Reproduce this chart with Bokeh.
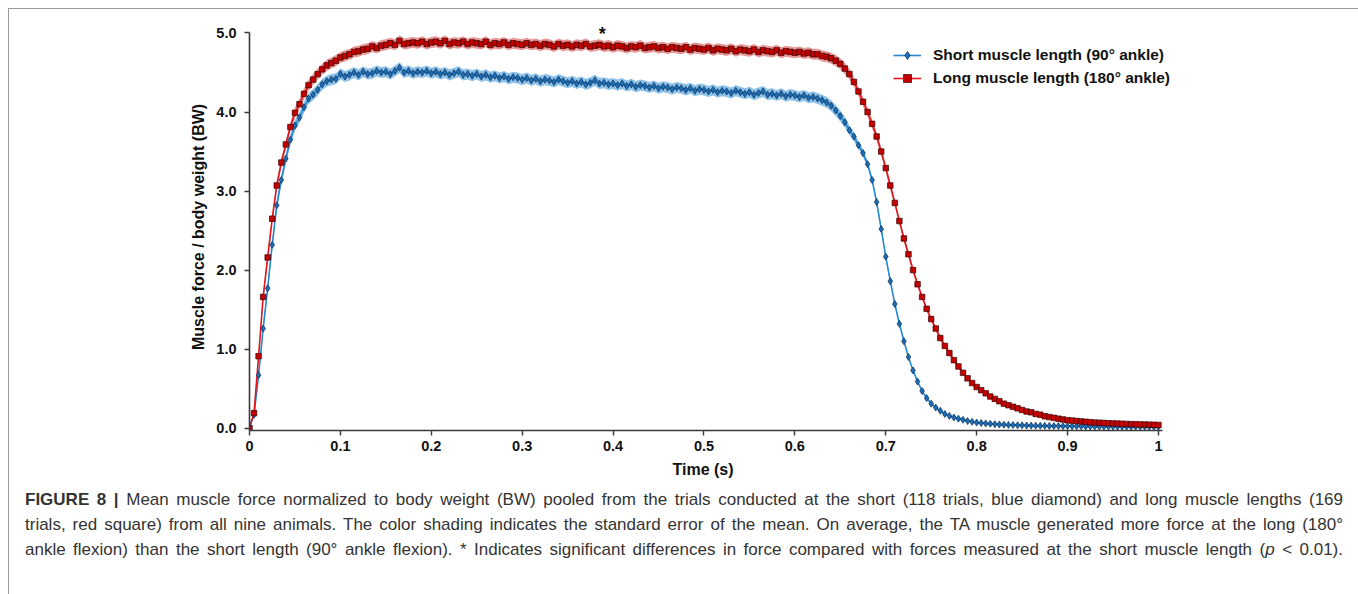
from bokeh.plotting import figure
from bokeh.models import Range1d, FixedTicker, Legend, LegendItem, Label, Div, ColumnDataSource, Title
from bokeh.layouts import column
from bokeh.embed import file_html
from bokeh.resources import INLINE

# ---------------- DATA ----------------
# time axis: samples every 5 ms from 0 to 1 s
time_s = [round(i * 0.005, 3) for i in range(201)]

# Long muscle length (180 deg ankle) – mean force / BW
long_mean = [
    0.00, 0.19, 0.91, 1.66, 2.16, 2.65, 3.07, 3.36, 3.59, 3.81,
    3.99, 4.10, 4.23, 4.34, 4.41, 4.48, 4.54, 4.59, 4.62, 4.65,
    4.69, 4.71, 4.73, 4.76, 4.77, 4.79, 4.80, 4.83, 4.81, 4.84,
    4.85, 4.87, 4.85, 4.90, 4.86, 4.87, 4.88, 4.87, 4.89, 4.86,
    4.88, 4.89, 4.87, 4.90, 4.86, 4.88, 4.87, 4.89, 4.86, 4.88,
    4.87, 4.86, 4.89, 4.85, 4.87, 4.86, 4.88, 4.85, 4.87, 4.86,
    4.85, 4.87, 4.85, 4.86, 4.84, 4.86, 4.85, 4.83, 4.86, 4.84,
    4.85, 4.83, 4.85, 4.84, 4.86, 4.83, 4.84, 4.85, 4.83, 4.84,
    4.82, 4.84, 4.83, 4.81, 4.83, 4.82, 4.84, 4.81, 4.82, 4.83,
    4.81, 4.82, 4.80, 4.82, 4.81, 4.80, 4.82, 4.79, 4.81, 4.80,
    4.79, 4.81, 4.78, 4.80, 4.79, 4.78, 4.80, 4.77, 4.79, 4.78,
    4.77, 4.79, 4.76, 4.78, 4.77, 4.76, 4.78, 4.75, 4.77, 4.76,
    4.75, 4.76, 4.74, 4.75, 4.73, 4.73, 4.71, 4.70, 4.68, 4.65,
    4.61, 4.55, 4.48, 4.38, 4.26, 4.13, 4.00, 3.85, 3.69, 3.50,
    3.29, 3.07, 2.85, 2.62, 2.40, 2.20, 2.00, 1.82, 1.66, 1.51,
    1.38, 1.26, 1.14, 1.04, 0.95, 0.86, 0.78, 0.70, 0.63, 0.57,
    0.52, 0.48, 0.44, 0.40, 0.37, 0.34, 0.31, 0.29, 0.27, 0.25,
    0.23, 0.21, 0.20, 0.18, 0.17, 0.15, 0.14, 0.13, 0.12, 0.11,
    0.10, 0.095, 0.09, 0.085, 0.08, 0.075, 0.07, 0.068, 0.065, 0.062,
    0.06, 0.057, 0.055, 0.053, 0.05, 0.048, 0.046, 0.045, 0.044, 0.042,
    0.04,
]

# Short muscle length (90 deg ankle) – mean force / BW
short_mean = [
    0.02, 0.17, 0.67, 1.26, 1.77, 2.32, 2.82, 3.14, 3.41, 3.65,
    3.83, 3.93, 4.06, 4.17, 4.22, 4.28, 4.35, 4.39, 4.41, 4.42,
    4.48, 4.45, 4.47, 4.50, 4.47, 4.51, 4.48, 4.49, 4.52, 4.50,
    4.51, 4.48, 4.52, 4.56, 4.50, 4.52, 4.49, 4.51, 4.50, 4.52,
    4.49, 4.51, 4.48, 4.50, 4.47, 4.49, 4.51, 4.47, 4.48, 4.46,
    4.48, 4.45, 4.47, 4.44, 4.46, 4.43, 4.45, 4.42, 4.44, 4.43,
    4.41, 4.43, 4.40, 4.42, 4.39, 4.41, 4.40, 4.38, 4.41, 4.39,
    4.37, 4.39, 4.36, 4.38, 4.35, 4.37, 4.40, 4.36, 4.37, 4.35,
    4.36, 4.34, 4.36, 4.33, 4.35, 4.32, 4.34, 4.33, 4.31, 4.33,
    4.30, 4.32, 4.31, 4.29, 4.31, 4.30, 4.28, 4.30, 4.27, 4.29,
    4.28, 4.26, 4.28, 4.25, 4.27, 4.26, 4.24, 4.27, 4.25, 4.23,
    4.25, 4.22, 4.24, 4.26, 4.22, 4.23, 4.21, 4.23, 4.20, 4.22,
    4.21, 4.19, 4.21, 4.18, 4.19, 4.17, 4.15, 4.12, 4.08, 4.02,
    3.95, 3.87, 3.77, 3.69, 3.58, 3.48, 3.34, 3.14, 2.86, 2.52,
    2.17, 1.86, 1.57, 1.32, 1.10, 0.90, 0.73, 0.59, 0.47, 0.38,
    0.31, 0.26, 0.22, 0.18, 0.155, 0.135, 0.12, 0.105, 0.09, 0.08,
    0.07, 0.065, 0.06, 0.055, 0.05, 0.047, 0.044, 0.041, 0.039, 0.037,
    0.035, 0.033, 0.032, 0.031, 0.030, 0.029, 0.028, 0.027, 0.026, 0.025,
    0.025, 0.024, 0.023, 0.023, 0.022, 0.022, 0.021, 0.021, 0.020, 0.020,
    0.020, 0.019, 0.019, 0.018, 0.018, 0.018, 0.017, 0.017, 0.016, 0.016,
    0.016,
]

# standard error of the mean (shaded bands)
long_se = [
    0.00, 0.02, 0.03, 0.04, 0.05, 0.05, 0.06, 0.06, 0.06, 0.06,
    0.07, 0.07, 0.07, 0.07, 0.07, 0.07, 0.07, 0.07, 0.07, 0.07,
    0.07, 0.07, 0.07, 0.07, 0.07, 0.07, 0.07, 0.07, 0.07, 0.07,
    0.07, 0.07, 0.07, 0.07, 0.07, 0.07, 0.07, 0.07, 0.07, 0.07,
    0.07, 0.07, 0.07, 0.07, 0.07, 0.07, 0.07, 0.07, 0.07, 0.07,
    0.07, 0.07, 0.07, 0.07, 0.07, 0.07, 0.07, 0.07, 0.07, 0.07,
    0.07, 0.07, 0.07, 0.07, 0.07, 0.07, 0.07, 0.07, 0.07, 0.07,
    0.07, 0.07, 0.07, 0.07, 0.07, 0.07, 0.07, 0.07, 0.07, 0.07,
    0.07, 0.07, 0.07, 0.07, 0.07, 0.07, 0.07, 0.07, 0.07, 0.07,
    0.07, 0.07, 0.07, 0.07, 0.07, 0.07, 0.07, 0.07, 0.07, 0.07,
    0.07, 0.07, 0.07, 0.07, 0.07, 0.07, 0.07, 0.07, 0.07, 0.07,
    0.07, 0.07, 0.07, 0.07, 0.07, 0.07, 0.07, 0.07, 0.07, 0.07,
    0.07, 0.07, 0.07, 0.07, 0.07, 0.07, 0.07, 0.07, 0.07, 0.07,
    0.07, 0.07, 0.07, 0.06, 0.06, 0.06, 0.06, 0.06, 0.05, 0.05,
    0.05, 0.05, 0.04, 0.04, 0.04, 0.04, 0.04, 0.03, 0.03, 0.03,
    0.03, 0.03, 0.03, 0.03, 0.03, 0.02, 0.02, 0.02, 0.02, 0.02,
    0.02, 0.02, 0.02, 0.02, 0.02, 0.02, 0.02, 0.01, 0.01, 0.01,
    0.01, 0.01, 0.01, 0.01, 0.01, 0.01, 0.01, 0.01, 0.01, 0.01,
    0.01, 0.01, 0.01, 0.01, 0.01, 0.01, 0.01, 0.01, 0.01, 0.01,
    0.01, 0.01, 0.01, 0.01, 0.01, 0.01, 0.01, 0.01, 0.01, 0.01,
    0.01,
]
short_se = [
    0.00, 0.02, 0.03, 0.04, 0.05, 0.05, 0.06, 0.06, 0.06, 0.07,
    0.07, 0.07, 0.07, 0.07, 0.07, 0.07, 0.07, 0.07, 0.07, 0.07,
    0.07, 0.07, 0.07, 0.07, 0.07, 0.07, 0.07, 0.07, 0.07, 0.07,
    0.07, 0.07, 0.07, 0.07, 0.07, 0.07, 0.07, 0.07, 0.07, 0.07,
    0.07, 0.07, 0.07, 0.07, 0.07, 0.07, 0.07, 0.07, 0.07, 0.07,
    0.07, 0.07, 0.07, 0.07, 0.07, 0.07, 0.07, 0.07, 0.07, 0.07,
    0.07, 0.07, 0.07, 0.07, 0.07, 0.07, 0.07, 0.07, 0.07, 0.07,
    0.07, 0.07, 0.07, 0.07, 0.07, 0.07, 0.07, 0.07, 0.07, 0.07,
    0.07, 0.07, 0.07, 0.07, 0.07, 0.07, 0.07, 0.07, 0.07, 0.07,
    0.07, 0.07, 0.07, 0.07, 0.07, 0.07, 0.07, 0.07, 0.07, 0.07,
    0.07, 0.07, 0.07, 0.07, 0.07, 0.07, 0.07, 0.07, 0.07, 0.07,
    0.07, 0.07, 0.07, 0.07, 0.07, 0.07, 0.07, 0.07, 0.07, 0.07,
    0.07, 0.07, 0.07, 0.07, 0.07, 0.07, 0.07, 0.07, 0.07, 0.07,
    0.07, 0.07, 0.06, 0.06, 0.05, 0.05, 0.04, 0.03, 0.03, 0.03,
    0.02, 0.02, 0.02, 0.02, 0.02, 0.01, 0.01, 0.01, 0.01, 0.01,
    0.01, 0.01, 0.01, 0.01, 0.01, 0.01, 0.01, 0.01, 0.01, 0.01,
    0.01, 0.01, 0.01, 0.01, 0.01, 0.01, 0.01, 0.01, 0.01, 0.01,
    0.01, 0.01, 0.01, 0.01, 0.01, 0.01, 0.01, 0.01, 0.01, 0.01,
    0.01, 0.01, 0.01, 0.01, 0.01, 0.01, 0.01, 0.01, 0.01, 0.01,
    0.01, 0.01, 0.01, 0.01, 0.01, 0.01, 0.01, 0.01, 0.01, 0.01,
    0.01,
]

series_labels = ["Short muscle length (90° ankle)", "Long muscle length (180° ankle)"]
x_ticks = [0, 0.1, 0.2, 0.3, 0.4, 0.5, 0.6, 0.7, 0.8, 0.9, 1]
x_tick_labels = ["0", "0.1", "0.2", "0.3", "0.4", "0.5", "0.6", "0.7", "0.8", "0.9", "1"]
y_ticks = [0, 1, 2, 3, 4, 5]
y_tick_labels = ["0.0", "1.0", "2.0", "3.0", "4.0", "5.0"]
sig_time = [0.388]
sig_value = [4.99]

assert len(long_mean) == len(short_mean) == len(long_se) == len(short_se) == len(time_s)

caption_lines = [
    "<b>FIGURE 8 |</b> Mean muscle force normalized to body weight (BW) pooled from the trials conducted at the short (118 trials, blue diamond) and long muscle lengths (169",
    "trials, red square) from all nine animals. The color shading indicates the standard error of the mean. On average, the TA muscle generated more force at the long (180°",
    "ankle flexion) than the short length (90° ankle flexion). * Indicates significant differences in force compared with forces measured at the short muscle length (<i>p</i> &lt; 0.01).",
]

# ---------------- PLOT ----------------
FONT = "Liberation Sans"

src = ColumnDataSource(dict(
    t=time_s,
    lm=long_mean, sm=short_mean,
    l_lo=[m - s for m, s in zip(long_mean, long_se)],
    l_hi=[m + s for m, s in zip(long_mean, long_se)],
    s_lo=[m - s for m, s in zip(short_mean, short_se)],
    s_hi=[m + s for m, s in zip(short_mean, short_se)],
))

p = figure(
    frame_width=1018, frame_height=407,
    min_border_left=240, min_border_right=82, min_border_top=14, min_border_bottom=10,
    x_range=Range1d(0, 1.12), y_range=Range1d(-0.03, 5.12),
    output_backend="svg", toolbar_location=None,
)
p.outline_line_color = None
p.xgrid.visible = False
p.ygrid.visible = False
p.background_fill_color = "white"
p.border_fill_color = "white"

# bands
p.varea(x="t", y1="l_lo", y2="l_hi", source=src, fill_color="#e47d7d", fill_alpha=0.8)
p.varea(x="t", y1="s_lo", y2="s_hi", source=src, fill_color="#6fb1e4", fill_alpha=0.8)

# lines + markers
bl = p.line("t", "sm", source=src, line_color="#2388d6", line_width=1.6)
rl = p.line("t", "lm", source=src, line_color="#e3141c", line_width=1.6)
bs = p.scatter("t", "sm", source=src, marker="diamond", size=7,
               fill_color="#1c6db5", line_color="#0c2f55", line_width=0.7)
rs = p.scatter("t", "lm", source=src, marker="square", size=5.5,
               fill_color="#c40000", line_color="#3d0000", line_width=0.7)

# axes
for ax in (p.xaxis[0], p.yaxis[0]):
    ax.axis_line_color = "#3a3a3a"
    ax.axis_line_width = 1.6
    ax.major_tick_line_color = "#3a3a3a"
    ax.major_tick_line_width = 1.4
    ax.major_tick_out = 5
    ax.major_tick_in = 0
    ax.minor_tick_line_color = None
    ax.major_label_text_font = FONT
    ax.major_label_text_font_style = "bold"
    ax.major_label_text_font_size = "14.5px"
    ax.major_label_text_color = "#111111"
    ax.axis_label_text_font = FONT
    ax.axis_label_text_font_style = "bold"
    ax.axis_label_text_font_size = "16px"
    ax.axis_label_text_color = "#111111"

p.xaxis.ticker = FixedTicker(ticks=x_ticks)
p.xaxis.major_label_overrides = {float(v): s for v, s in zip(x_ticks, x_tick_labels)}
p.xaxis.bounds = (0, 1.004)
p.yaxis.ticker = FixedTicker(ticks=y_ticks)
p.yaxis.major_label_overrides = {float(v): s for v, s in zip(y_ticks, y_tick_labels)}
p.yaxis.bounds = (-0.03, 5.0)
p.yaxis.axis_label = "Muscle force / body weight (BW)"
p.xaxis.major_label_standoff = 5
p.yaxis.major_label_standoff = 8
p.yaxis.axis_label_standoff = 6

# x-axis title centred under the 0..1 span (the frame is wider to make room for the legend)
xtitle = Title(text="Time (s)", align="left", offset=423,
               text_font=FONT, text_font_style="bold", text_font_size="16px",
               text_color="#111111")
p.add_layout(xtitle, "below")

# significance marker
for tx, vy in zip(sig_time, sig_value):
    p.add_layout(Label(x=tx, y=vy, text="*", text_font=FONT, text_font_style="bold",
                       text_font_size="18px", text_align="center", text_baseline="middle",
                       text_color="#111111"))

legend = Legend(
    items=[LegendItem(label=series_labels[0], renderers=[bl, bs]),
           LegendItem(label=series_labels[1], renderers=[rl, rs])],
    location=(644, 342),
    glyph_width=28, glyph_height=20, label_standoff=12, spacing=3,
    padding=0, margin=0, border_line_color=None, background_fill_alpha=0,
    label_text_font=FONT, label_text_font_style="bold", label_text_font_size="15.5px",
    label_text_color="#111111",
)
p.add_layout(legend)

line_style = "text-align:justify;text-align-last:justify;"
cap_html = ('<div style="margin:0 0 0 11px;width:1318px;font-family:\'Liberation Sans\',sans-serif;'
            'font-size:17px;line-height:25px;color:#333333;">'
            + "".join(f'<div style="{line_style}">{ln}</div>' for ln in caption_lines)
            + '</div>')
cap = Div(text=cap_html, width=1340, height=110)

layout = column(p, cap, spacing=0, styles={
    "margin-left": "8px",
    "margin-top": "8px",
    "border-left": "1px solid #9a9a9a",
    "border-top": "1px solid #9a9a9a",
    "border-right": "1px solid #9a9a9a",
    "background-color": "white",
})

open("out.html", "w").write(file_html(layout, INLINE))
